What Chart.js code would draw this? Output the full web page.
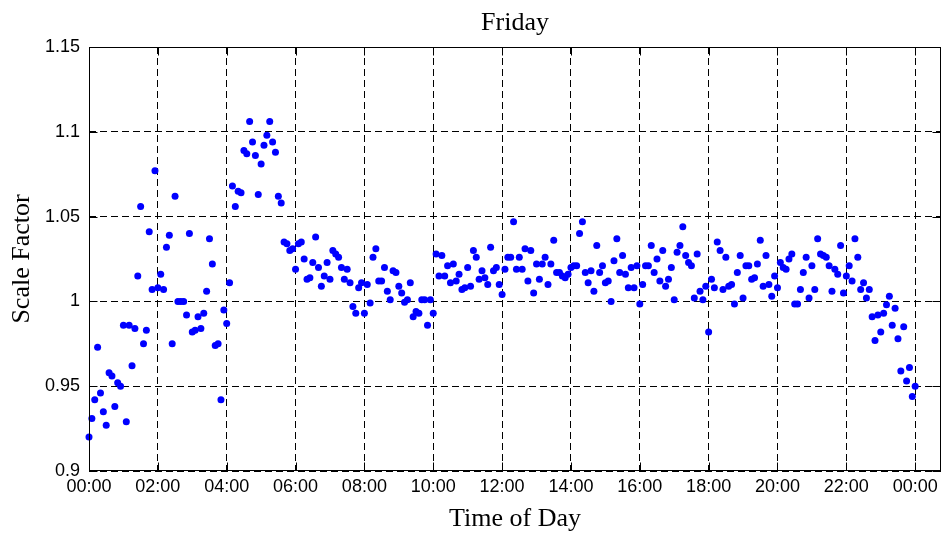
<!DOCTYPE html>
<html>
<head>
<meta charset="utf-8">
<script src="https://cdn.jsdelivr.net/npm/chart.js@4.4.1/dist/chart.umd.min.js"></script>
<style>
html,body{margin:0;padding:0;background:#fff;overflow:hidden}
canvas{display:block}
</style>
</head>
<body>
<canvas id="c" width="951" height="539" style="width:951px;height:539px"></canvas>
<script>
// ---- chart text ----
const chartTitle = 'Friday';
const xAxisTitle = 'Time of Day';
const yAxisTitle = 'Scale Factor';

// ---- axes ----
const sampleStepMinutes = 5;      // one reading every 5 minutes, starting 00:00
const xAxisMaxMinutes = 1485;
const xTickMinutes = [0,120,240,360,480,600,720,840,960,1080,1200,1320,1440];
const xTickLabels = ['00:00','02:00','04:00','06:00','08:00','10:00','12:00','14:00','16:00','18:00','20:00','22:00','00:00'];
const yTickValues = [0.9,0.95,1,1.05,1.1,1.15];
const yTickLabels = ['0.9','0.95','1','1.05','1.1','1.15'];

// ---- series: scale factor per 5-minute slot ----
const scaleFactor = [
0.920,0.931,0.942,0.973,0.946,0.935,0.927,0.958,0.956,0.938,0.952,0.950,0.986,0.929,0.986,0.962,0.984,1.015,1.056,0.975,0.983,1.041,1.007,1.077,
1.008,1.016,1.007,1.032,1.039,0.975,1.062,1.000,1.000,1.000,0.992,1.040,0.982,0.983,0.991,0.984,0.993,1.006,1.037,1.022,0.974,0.975,0.942,0.995,0.987,1.011,1.068,1.056,1.065,1.064,1.089,1.087,1.106,1.094,1.086,1.063,1.081,1.092,1.098,1.106,1.094,1.088,1.062,1.058,
1.035,1.034,1.030,1.031,1.019,1.034,1.035,1.025,1.013,1.014,1.023,1.038,1.020,1.009,1.015,1.023,1.013,1.030,1.028,1.026,1.020,1.013,1.019,1.011,0.997,0.993,1.008,1.011,0.993,1.010,0.999,1.026,1.031,1.012,1.012,1.020,1.006,1.001,1.018,1.017,1.009,1.005,0.9995,1.001,1.011,0.991,0.994,0.993,1.001,1.001,0.986,
1.001,0.993,1.028,1.015,1.027,1.015,1.021,1.011,1.022,1.012,1.016,1.007,1.008,1.020,1.009,1.030,1.026,1.013,1.018,1.014,1.010,1.032,1.018,1.020,1.010,1.004,1.019,1.026,1.026,1.047,1.019,1.026,1.019,1.031,1.012,1.030,1.005,1.022,1.013,1.022,1.026,1.010,1.022,1.036,1.017,1.017,1.015,1.014,1.016,1.020,1.021,1.021,1.040,1.047,1.017,1.011,1.018,1.006,1.033,1.017,
1.021,1.011,1.012,1.000,1.024,1.037,1.017,1.027,1.016,1.008,1.020,1.008,1.021,0.9985,1.010,1.021,1.021,1.033,1.017,1.025,1.012,1.030,1.009,1.013,1.020,1.001,1.029,1.033,1.044,1.027,1.023,1.021,1.002,1.028,1.006,1.001,1.009,0.982,1.013,1.008,1.035,1.030,1.007,1.026,1.009,1.010,0.9985,1.017,1.027,1.002,1.021,1.021,1.013,1.014,1.022,1.036,1.009,1.027,1.010,1.003,
1.015,1.008,1.023,1.020,1.019,1.025,1.028,0.9985,0.9985,1.007,1.017,1.026,1.002,1.021,1.007,1.037,1.028,1.027,1.026,1.021,1.006,1.019,1.016,1.033,1.005,1.015,1.021,1.012,1.037,1.026,1.007,1.011,1.002,1.007,0.991,0.977,0.992,0.982,0.993,0.998,1.003,0.986,0.996,0.978,0.959,0.985,0.953,0.961,0.944,0.950
];

const serif = '"Liberation Serif","Times New Roman",serif';
const sans = '"Liberation Sans",Arial,Helvetica,sans-serif';

// frame with inward tick marks (MATLAB style), positions from the chart's scales
const framePlugin = {
  id: 'frame',
  afterDatasetsDraw(chart) {
    const {ctx, chartArea: a, scales: {x, y}} = chart;
    const L = Math.round(a.left) + 0.5, R = Math.round(a.right) - 0.5;
    const T = Math.round(a.top) + 0.5, B = Math.round(a.bottom) - 0.5;
    const len = 8;
    ctx.save();
    ctx.setLineDash([]);
    ctx.strokeStyle = '#000';
    ctx.lineWidth = 1;
    ctx.beginPath();
    x.ticks.forEach(t => {
      const px = Math.round(x.getPixelForValue(t.value)) + 0.5;
      ctx.moveTo(px, B); ctx.lineTo(px, B - len);
      ctx.moveTo(px, T); ctx.lineTo(px, T + len);
    });
    y.ticks.forEach(t => {
      const py = Math.round(y.getPixelForValue(t.value)) + 0.5;
      ctx.moveTo(L, py); ctx.lineTo(L + len, py);
      ctx.moveTo(R, py); ctx.lineTo(R - len, py);
    });
    ctx.stroke();
    ctx.strokeRect(L, T, R - L, B - T);
    ctx.restore();
  }
};

new Chart(document.getElementById('c').getContext('2d'), {
  type: 'scatter',
  data: {
    datasets: [{
      data: scaleFactor.map((v, i) => ({x: i * sampleStepMinutes, y: v})),
      backgroundColor: '#0000ff',
      borderWidth: 0,
      pointRadius: 3.5,
      pointHoverRadius: 3.5,
      clip: false
    }]
  },
  options: {
    responsive: false,
    animation: false,
    devicePixelRatio: 1,
    layout: {padding: {left: 0, right: 10, top: 0, bottom: 0}},
    plugins: {
      legend: {display: false},
      tooltip: {enabled: false},
      title: {
        display: true, text: chartTitle, color: '#000', fullSize: false,
        font: {family: serif, size: 26, weight: 'normal', lineHeight: 1},
        padding: {top: 10, bottom: 11}
      }
    },
    scales: {
      x: {
        type: 'linear', min: 0, max: xAxisMaxMinutes,
        afterBuildTicks: s => { s.ticks = xTickMinutes.map(v => ({value: v})); },
        afterFit: s => { s.height = 68; },
        ticks: {
          callback: (v, i) => xTickLabels[i],
          color: '#000', font: {family: sans, size: 18}, padding: 5,
          maxRotation: 0, autoSkip: false
        },
        grid: {color: '#000', lineWidth: 1, drawTicks: false},
        border: {display: false, dash: [7, 4]},
        title: {
          display: true, text: xAxisTitle, color: '#000',
          font: {family: serif, size: 26, weight: 'normal', lineHeight: 1.2},
          padding: {top: 0, bottom: 4}
        }
      },
      y: {
        type: 'linear', min: 0.9, max: 1.15,
        afterBuildTicks: s => { s.ticks = yTickValues.map(v => ({value: v})); },
        afterFit: s => { s.width = 89; },
        ticks: {
          callback: (v, i) => yTickLabels[i],
          color: '#000', font: {family: sans, size: 18}, padding: 9
        },
        grid: {color: '#000', lineWidth: 1, drawTicks: false},
        border: {display: false, dash: [7, 4]},
        title: {
          display: true, text: yAxisTitle, color: '#000',
          font: {family: serif, size: 26, weight: 'normal', lineHeight: 1.2},
          padding: {top: 7, bottom: 0}
        }
      }
    }
  },
  plugins: [framePlugin]
});
</script>
</body>
</html>
